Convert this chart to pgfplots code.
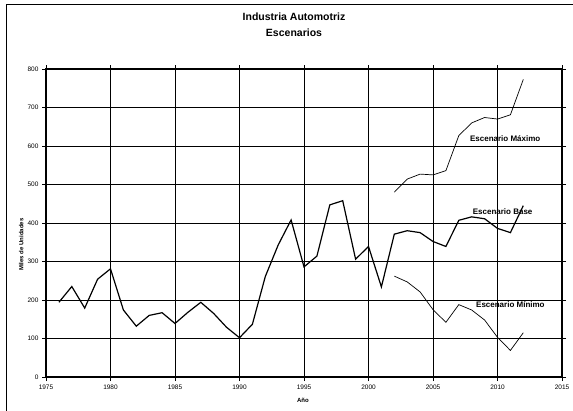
\documentclass[border=0pt]{standalone}
\usepackage{pgfplots}
\usepackage{pgfplotstable}
\pgfplotsset{compat=1.18}
\usepackage{fontspec}
\setmainfont{Liberation Sans}

% Ventas históricas (miles de unidades)
\pgfplotstableread{
anio valor
1976 194
1977 235
1978 179
1979 254
1980 281
1981 174
1982 132
1983 160
1984 167
1985 139
1986 168
1987 194
1988 165
1989 129
1990 102
1991 137
1992 261
1993 343
1994 408
1995 286
1996 314
1997 447
1998 458
1999 306
2000 339
2001 234
2002 371
2003 380
2004 375
2005 352
2006 339
2007 407
2008 416
2009 411
2010 386
2011 375
2012 445
}\base

\pgfplotstableread{
anio valor
2002 480
2003 514
2004 527
2005 525
2006 536
2007 627
2008 660
2009 674
2010 670
2011 681
2012 773
}\maximo

\pgfplotstableread{
anio valor
2002 262
2003 247
2004 221
2005 175
2006 142
2007 188
2008 174
2009 148
2010 103
2011 69
2012 115
}\minimo

\begin{document}
\begin{tikzpicture}[x=1pt,y=1pt]
\useasboundingbox (0,0) rectangle (573,410);
\draw[line width=1.5pt] (6.5,-10) -- (6.5,405.5) -- (590,405.5);
\node[font=\bfseries\fontsize{10.5}{12}\selectfont] at (294,393.5) {Industria Automotriz};
\node[font=\bfseries\fontsize{10.5}{12}\selectfont] at (294,377.5) {Escenarios};
\begin{axis}[
  at={(46pt,33pt)}, anchor=south west,
  scale only axis, width=516pt, height=308pt,
  xmin=1975, xmax=2015, ymin=0, ymax=800,
  xtick={1975,1980,...,2015}, ytick={0,100,...,800},
  grid=major, grid style={black, line width=0.7pt},
  axis line style={line width=1.3pt},
  tick style={black, line width=0.7pt},
  tick align=outside, major tick length=4pt,
  ticklabel style={font=\fontsize{6.5}{7}\selectfont},
  /pgf/number format/assume math mode=true,
  /pgf/number format/1000 sep={},
  xlabel={Año}, ylabel={Miles de Unidades},
  label style={font=\bfseries\fontsize{6}{7}\selectfont},
  xlabel style={at={(axis description cs:0.498,-0.075)}, anchor=center},
  ylabel style={at={(axis description cs:-0.048,0.43)}, anchor=center},
  clip=false,
]
\addplot[black, line width=1.2pt] table[x=anio, y=valor] {\base};
\addplot[black, line width=0.7pt] table[x=anio, y=valor] {\maximo};
\addplot[black, line width=0.7pt] table[x=anio, y=valor] {\minimo};
\node[font=\bfseries\fontsize{8}{9}\selectfont] at (axis cs:2010.6,619) {Escenario Máximo};
\node[font=\bfseries\fontsize{8}{9}\selectfont] at (axis cs:2010.4,429) {Escenario Base};
\node[font=\bfseries\fontsize{8}{9}\selectfont] at (axis cs:2011.0,189) {Escenario Mínimo};
\end{axis}
\end{tikzpicture}
\end{document}
